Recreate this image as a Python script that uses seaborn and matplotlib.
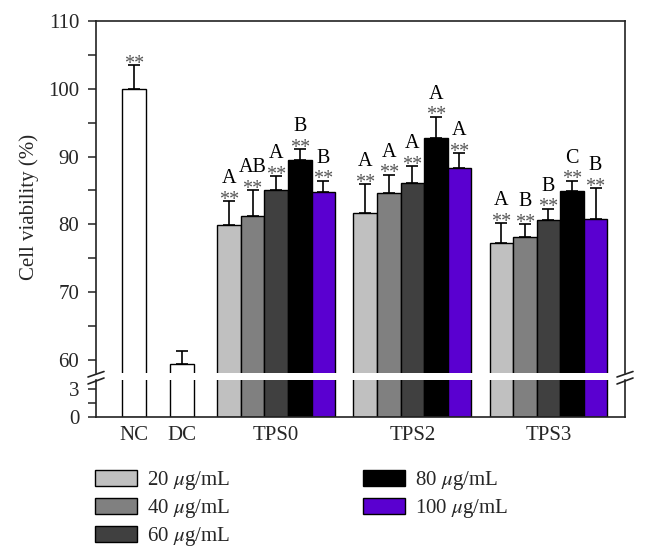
import numpy as np
import pandas as pd
import matplotlib.pyplot as plt
import seaborn as sns
from matplotlib.lines import Line2D
from matplotlib.patches import Patch
from matplotlib.ticker import MultipleLocator

# data
groups = ["NC", "DC", "TPS0", "TPS2", "TPS3"]
concs = ["20 $\\mu$g/mL", "40 $\\mu$g/mL", "60 $\\mu$g/mL", "80 $\\mu$g/mL", "100 $\\mu$g/mL"]
ctrl_vals = [100.0, 59.4]
ctrl_err = [3.5, 1.9]
ctrl_stars = ["**", ""]
tps0_vals = [79.9, 81.3, 85.0, 89.45, 84.8]
tps0_err = [3.5, 3.7, 2.1, 1.6, 1.65]
tps0_letters = ["A", "AB", "A", "B", "B"]
tps2_vals = [81.7, 84.7, 86.1, 92.8, 88.3]
tps2_err = [4.2, 2.6, 2.5, 3.1, 2.2]
tps2_letters = ["A", "A", "A", "A", "A"]
tps3_vals = [77.3, 78.1, 80.6, 84.9, 80.8]
tps3_err = [2.9, 1.9, 1.7, 1.5, 4.5]
tps3_letters = ["A", "B", "B", "C", "B"]

colors = ["#c0c0c0", "#808080", "#404040", "#000000", "#5a00d0"]

# layout: x axis measured in bar widths
group_pos = [1.61, 3.65, 7.65, 13.43, 19.21]
x_max = 22.46

rows = []
for g, v, e, s, p in zip(groups[:2], ctrl_vals, ctrl_err, ctrl_stars, group_pos[:2]):
    rows.append(dict(x=p, val=v, err=e, key=g, star=s, letter=""))
for g, vals, errs, lets, p in zip(groups[2:], [tps0_vals, tps2_vals, tps3_vals],
                                  [tps0_err, tps2_err, tps3_err],
                                  [tps0_letters, tps2_letters, tps3_letters], group_pos[2:]):
    for i, (c, v, e, l) in enumerate(zip(concs, vals, errs, lets)):
        rows.append(dict(x=p + i - 2, val=v, err=e, key=c, star="**", letter=l))
df = pd.DataFrame(rows)

pal = {"NC": "white", "DC": "white"}
pal.update(dict(zip(concs, colors)))

sns.set_style("ticks")
plt.rcParams["font.family"] = ["Liberation Serif", "DejaVu Serif"]
plt.rcParams["mathtext.fontset"] = "stix"
plt.rcParams["font.size"] = 15

W, H = 648, 559
fig = plt.figure(figsize=(W / 100, H / 100), dpi=100)
ax_top = fig.add_axes([96 / W, 1 - 373 / H, 529 / W, (373 - 21) / H])
ax_bot = fig.add_axes([96 / W, 1 - 416.7 / H, 529 / W, (416.7 - 380) / H])

for ax in (ax_top, ax_bot):
    sns.barplot(data=df, x="x", y="val", hue="key", hue_order=list(pal.keys()),
                palette=pal, native_scale=True, width=1.0, dodge=False, saturation=1,
                errorbar=None, edgecolor="black", linewidth=1.0, legend=False, ax=ax)
    ax.set_xlim(0, x_max)
    ax.set_xlabel("")
    ax.set_ylabel("")
    for sp in ax.spines.values():
        sp.set_linewidth(1.2)
        sp.set_color("#222222")
    ax.tick_params(axis="y", which="both", direction="out", length=6, width=1.1,
                   pad=6, labelsize=15, color="#222222")

ax_top.set_ylim(58.08, 110)
ax_top.yaxis.set_major_locator(MultipleLocator(10))
ax_top.yaxis.set_minor_locator(MultipleLocator(5))
ax_top.spines["bottom"].set_visible(False)
ax_top.set_xticks([])
ax_top.tick_params(axis="x", length=0)

ax_bot.set_ylim(0, 4.02)
ax_bot.set_yticks([0, 3])
ax_bot.set_yticks([1.5], minor=True)
ax_bot.spines["top"].set_visible(False)
ax_bot.set_xticks(group_pos)
ax_bot.set_xticklabels(groups)
ax_bot.tick_params(axis="x", length=0, pad=7, labelsize=15)

# error bars (upper side only)
ax_top.errorbar(df["x"], df["val"], yerr=[np.zeros(len(df)), df["err"]], fmt="none",
                ecolor="black", elinewidth=1.2, capsize=4.3, capthick=1.2, zorder=5)

# significance marks
for _, r in df.iterrows():
    top = r["val"] + r["err"]
    if r["star"]:
        ax_top.annotate(r["star"], (r["x"], top), xytext=(0, -2.5), textcoords="offset points",
                        ha="center", va="baseline", fontsize=14.5, color="#555555")
    if r["letter"]:
        ax_top.annotate(r["letter"], (r["x"], top), xytext=(0, 13), textcoords="offset points",
                        ha="center", va="baseline", fontsize=14.5, color="black")

ax_top.set_ylabel("Cell viability (%)", fontsize=15)
ax_top.yaxis.set_label_coords(-0.108, 0.473)

# axis break marks
def px_line(x0, y0, x1, y1):
    fig.add_artist(Line2D([x0 / W, x1 / W], [1 - y0 / H, 1 - y1 / H],
                          transform=fig.transFigure, color="#222222", lw=1.2))

for xc in (96, 625):
    px_line(xc - 8, 384, xc + 8, 378)
    px_line(xc - 8, 377, xc + 8, 371.5)

handles = [Patch(facecolor=c, edgecolor="black", linewidth=1.0) for c in colors]
fig.legend(handles, concs, loc="upper left", bbox_to_anchor=(95 / W, 1 - 469 / H),
           ncol=2, frameon=False, fontsize=15, handlelength=2.02, handleheight=0.77,
           handletextpad=0.48, columnspacing=6.4, labelspacing=0.25,
           borderpad=0, borderaxespad=0)

fig.savefig("out.png", dpi=100)
